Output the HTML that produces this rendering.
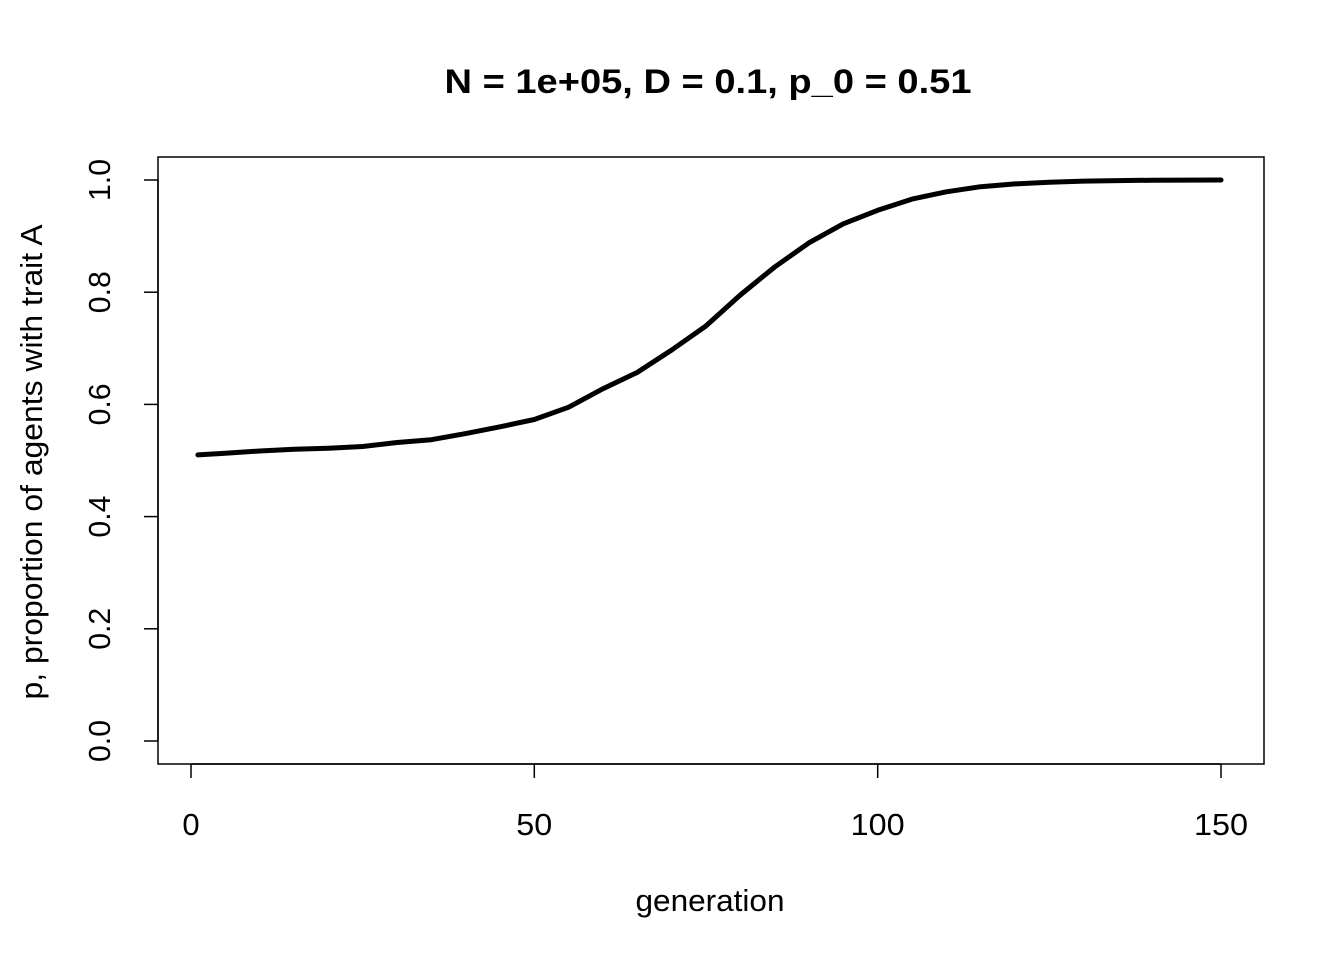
<!DOCTYPE html>
<html><head><meta charset="utf-8"><style>
html,body{margin:0;padding:0;background:#fff}
svg text{font-family:"Liberation Sans",Arial,sans-serif;fill:#000}
</style></head><body>
<svg width="1344" height="960" viewBox="0 0 1344 960" xmlns="http://www.w3.org/2000/svg">
<rect width="1344" height="960" fill="#fff"/>
<text x="708" y="93" text-anchor="middle" font-size="34" font-weight="bold" textLength="527" lengthAdjust="spacingAndGlyphs">N = 1e+05, D = 0.1, p_0 = 0.51</text>
<rect x="158" y="157" width="1106" height="607" fill="none" stroke="#000" stroke-width="1.5"/>
<g stroke="#000" stroke-width="1.5">
<line x1="191" y1="764" x2="1221" y2="764"/>
<line x1="191" y1="764" x2="191" y2="778"/>
<line x1="534.3" y1="764" x2="534.3" y2="778"/>
<line x1="877.7" y1="764" x2="877.7" y2="778"/>
<line x1="1221" y1="764" x2="1221" y2="778"/>
<line x1="158" y1="180" x2="158" y2="741"/>
<line x1="144" y1="741" x2="158" y2="741"/>
<line x1="144" y1="628.8" x2="158" y2="628.8"/>
<line x1="144" y1="516.6" x2="158" y2="516.6"/>
<line x1="144" y1="404.4" x2="158" y2="404.4"/>
<line x1="144" y1="292.2" x2="158" y2="292.2"/>
<line x1="144" y1="180" x2="158" y2="180"/>
</g>
<g font-size="31" text-anchor="middle">
<text x="191" y="835">0</text>
<text x="534.3" y="835" textLength="36" lengthAdjust="spacingAndGlyphs">50</text>
<text x="877.7" y="835" textLength="54" lengthAdjust="spacingAndGlyphs">100</text>
<text x="1221" y="835" textLength="54" lengthAdjust="spacingAndGlyphs">150</text>
<text x="710" y="911" textLength="149" lengthAdjust="spacingAndGlyphs">generation</text>
</g>
<g font-size="31" text-anchor="middle">
<text transform="translate(110,741) rotate(-90)" textLength="42" lengthAdjust="spacingAndGlyphs">0.0</text>
<text transform="translate(110,628.8) rotate(-90)" textLength="42" lengthAdjust="spacingAndGlyphs">0.2</text>
<text transform="translate(110,516.6) rotate(-90)" textLength="42" lengthAdjust="spacingAndGlyphs">0.4</text>
<text transform="translate(110,404.4) rotate(-90)" textLength="42" lengthAdjust="spacingAndGlyphs">0.6</text>
<text transform="translate(110,292.2) rotate(-90)" textLength="42" lengthAdjust="spacingAndGlyphs">0.8</text>
<text transform="translate(110,180) rotate(-90)" textLength="42" lengthAdjust="spacingAndGlyphs">1.0</text>
<text transform="translate(42,462) rotate(-90)" textLength="475" lengthAdjust="spacingAndGlyphs">p, proportion of agents with trait A</text>
</g>
<polyline fill="none" stroke="#000" stroke-width="5" stroke-linejoin="round" stroke-linecap="round" points="197.9,454.9 225.3,453.2 259.7,451.0 294.0,449.3 328.3,448.2 362.7,446.5 397.0,442.5 431.3,439.7 465.7,433.6 500.0,426.8 534.3,419.5 568.7,407.2 603.0,388.7 637.3,372.4 671.7,350.0 706.0,325.9 740.3,295.0 774.7,267.0 809.0,242.8 843.3,223.8 877.7,210.3 912.0,199.1 946.3,191.8 980.7,186.7 1015.0,183.9 1049.3,182.2 1083.7,181.1 1152.3,180.2 1221,180"/>
</svg>
</body></html>
